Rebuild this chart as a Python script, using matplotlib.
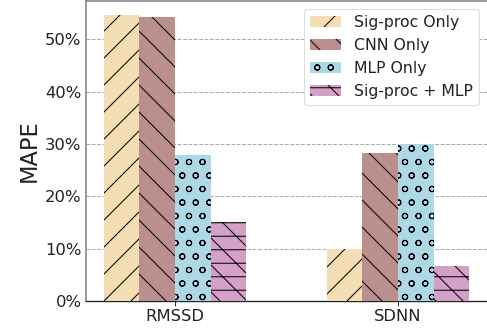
import numpy as np
import matplotlib
matplotlib.use("Agg")
import matplotlib.pyplot as plt
from matplotlib.ticker import PercentFormatter

metrics = ["RMSSD", "SDNN"]
methods = ["Sig-proc Only", "CNN Only", "MLP Only", "Sig-proc + MLP"]
sigproc = [54.6, 10.0]
cnn = [54.2, 28.2]
mlp = [27.9, 30.0]
sigproc_mlp = [15.1, 6.7]

colors = ["#f5deb3", "#bc8f8f", "#add8e6", "#d4a0c8"]
hatches = ["/", "\\", "o", "\\-"]

DPI = 81
plt.rcParams["hatch.linewidth"] = 0.9

fig = plt.figure(figsize=(487 / DPI, 329 / DPI), dpi=DPI)
ax = fig.add_axes([86 / 487, 28 / 329, 1 - 86 / 487, 300 / 329])

x = np.arange(len(metrics))
w = 0.16
series = [sigproc, cnn, mlp, sigproc_mlp]
for i, (vals, name) in enumerate(zip(series, methods)):
    ax.bar(x + (i - 1.5) * w, vals, w, color=colors[i], hatch=hatches[i],
           label=name, edgecolor="black", linewidth=0, zorder=3)

ax.set_xlim(-0.4, 1.4)
ax.set_ylim(0, 57.3)
ax.set_xticks(x)
ax.set_xticklabels(metrics)
ax.yaxis.set_major_formatter(PercentFormatter(decimals=0))
ax.set_yticks([0, 10, 20, 30, 40, 50])
ax.tick_params(axis="both", labelsize=14.5, colors="#222222")
ax.tick_params(axis="y", length=0, pad=4)
ax.tick_params(axis="x", length=4, color="#222222")
ax.set_ylabel("MAPE", fontsize=20, color="#222222")
ax.grid(axis="y", linestyle="--", color="#aaaaaa", linewidth=0.9, zorder=0)

for s in ["left", "top"]:
    ax.spines[s].set_color("#888888")
    ax.spines[s].set_linewidth(1.5)
ax.spines["right"].set_visible(False)
ax.spines["bottom"].set_color("#222222")
ax.spines["bottom"].set_linewidth(1.2)

leg = ax.legend(loc="upper right", fontsize=14, framealpha=1, edgecolor="#dddddd",
                handlelength=2.0, borderaxespad=0.5)
for t in leg.get_texts():
    t.set_color("#222222")

fig.savefig("out.png", dpi=DPI)
